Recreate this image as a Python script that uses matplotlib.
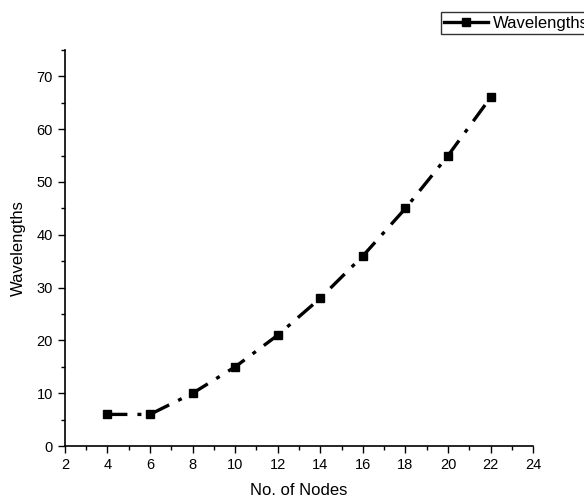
import matplotlib.pyplot as plt
from matplotlib.lines import Line2D
from matplotlib.ticker import MultipleLocator

plt.rcParams['font.family'] = ['Liberation Sans', 'DejaVu Sans']

nodes = [4, 6, 8, 10, 12, 14, 16, 18, 20, 22]
wavelengths = [6, 6, 10, 15, 21, 28, 36, 45, 55, 66]

fig = plt.figure(figsize=(5.84, 4.99), dpi=100)
ax = fig.add_axes([0.111, 0.106, 0.802, 0.794])

ax.plot(nodes, wavelengths, color='black', linestyle='-.', linewidth=2.4,
        marker='s', markersize=5.5, dashes=(6, 3, 1.2, 3))

ax.set_xlim(2, 24)
ax.set_ylim(0, 75)
ax.xaxis.set_major_locator(MultipleLocator(2))
ax.xaxis.set_minor_locator(MultipleLocator(1))
ax.yaxis.set_major_locator(MultipleLocator(10))
ax.yaxis.set_minor_locator(MultipleLocator(5))
ax.set_yticks(range(0, 80, 10))
for s in ['top', 'right']:
    ax.spines[s].set_visible(False)
for s in ['left', 'bottom']:
    ax.spines[s].set_linewidth(1.2)
ax.tick_params(which='major', direction='out', length=5, width=1, labelsize=10.5)
ax.tick_params(which='minor', direction='out', length=3, width=1)

ax.set_xlabel('No. of Nodes', fontsize=12, labelpad=8)
ax.set_ylabel('Wavelengths', fontsize=12, labelpad=8)

handle = Line2D([], [], color='black', linewidth=2.4, marker='s', markersize=5.5)
fig.legend([handle], ['Wavelengths'], loc='upper left',
           bbox_to_anchor=(0.755, 0.975), frameon=True, fancybox=False,
           edgecolor='black', fontsize=12, handlelength=2.6, handletextpad=0.3,
           borderpad=0.2, borderaxespad=0)

fig.savefig('out.png', dpi=100)
